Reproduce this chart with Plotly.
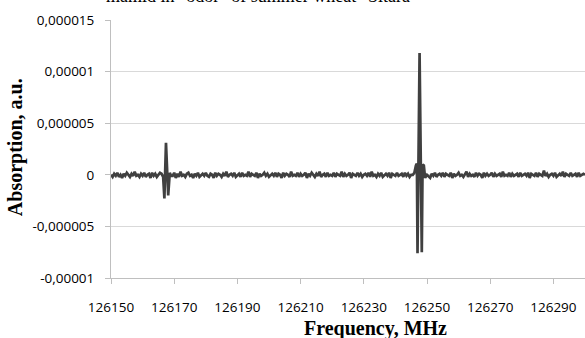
import numpy as np
import plotly.graph_objects as go

# ---- data (absorption in units of 1e-7 a.u.) ----
freq_start = 126150.0
freq_step = 0.5
baseline_abs = [
    0, -2, 1, -1, 2, -2, 0, -3, 1, -1, 2, 0, -2, 1, -1, 3, -1, 0, -2, 1,
    -1, 2, -2, 0, 1, -3, 2, -1, 1, -2, 0, 2, 0, 1, -1, 2, -2, 0, 1, -1,
    2, -3, 1, -2, 3, -1, 0, -2, 1, 2, -1, 0, -3, 1, -1, 2, -2, 0, 1, -1,
    2, -1, -2, 1, 0, -3, 2, -1, 1, 0, -2, 1, -1, 3, -2, 0, 1, -1, 2, -2,
    0, 1, -2, 2, -1, 0, -1, 3, -2, 1, 0, -1, 2, -3, 1, -1, 0, 2, -1, 1,
    -2, 0, 1, -1, 2, -2, 1, 0, -3, 2, -1, 1, 0, -2, 3, -1, 0, -1, 2, -2,
    1, -1, 0, 2, -3, 1, -1, 2, 0, -2, 1, -1, 3, -2, 0, 1, -2, 2, -1, 0,
    -1, 2, -2, 1, 0, -1, 3, -2, 1, -1, 0, 2, -3, 1, 0, -1, 2, -1, 1, -2,
    0, 1, -1, 2, -2, 3, -1, 0, -2, 1, -1, 2, -2, 0, 1, -1, 2, -3, 1, 0,
    -1, 2, -1, 0, 1, -2, 2, -1, 1, -2, 0, 1, -1, 2, 0, 1, -2, 3, -1, 0,
    1, -2, -3, 1, -1, 2, -2, 0, 1, -1, 2, -2, 1, 0, -1, 2, -3, 1, -1, 0,
    2, -1, 0, -2, 1, 3, -2, 1, -1, 0, -2, 2, -1, 1, 0, -3, 2, -1, 1, -1,
    0, 2, -2, 1, -1, 0, 1, -2, 3, -1, 0, -1, 2, -2, 1, -1, 0, 1, -2, 2,
    -1, 0, 1, -1, 2, -3, 1, 0, -1, 2, -2, 1, 0, -1, 4, -1, 1, -2, 0, 1,
    -1, 2, -2, 0, 1, -1, 3, -2, 1, 0, -1, 2, -1, 0, 1, -2, 2, -1, 0, 1,
    0,
]
peak1_freq = [126166.0, 126166.5, 126166.9, 126167.4, 126168.1, 126168.6, 126169.0]
peak1_abs = [1, -2, -23, 31, -20, 2, -1]
peak2_freq = [126245.5, 126246.0, 126246.5, 126246.8, 126247.0, 126247.65,
              126248.35, 126248.6, 126249.0, 126249.4, 126250.0]
peak2_abs = [0, 2, 9, 11, -76, 118, -75, 10, 9, -3, 0]

y_tickvals = [-1e-5, -5e-6, 0, 5e-6, 1e-5, 1.5e-5]
y_ticktext = ["-0,00001", "-0,000005", "0", "0,000005", "0,00001", "0,000015"]
x_tickvals = [126150, 126170, 126190, 126210, 126230, 126250, 126270, 126290]
x_ticktext = [str(v) for v in x_tickvals]

# ---- assemble spectrum ----
base_freq = freq_start + freq_step * np.arange(len(baseline_abs))
base_abs = np.array(baseline_abs, dtype=float)
mask = ~(((base_freq >= peak1_freq[0] - 0.1) & (base_freq <= peak1_freq[-1] + 0.1)) |
         ((base_freq >= peak2_freq[0] - 0.1) & (base_freq <= peak2_freq[-1] + 0.1)))
f_all = np.concatenate([base_freq[mask], peak1_freq, peak2_freq])
a_all = np.concatenate([base_abs[mask], peak1_abs, peak2_abs]) * 1e-7
order = np.argsort(f_all)
f_all, a_all = f_all[order], a_all[order]

fig = go.Figure()
fig.add_trace(go.Scatter(x=f_all, y=a_all, mode="lines",
                         line=dict(color="#404040", width=2.7), hoverinfo="skip"))

tick_font = dict(family="Open Sans", size=13.5, color="#000000")
fig.update_layout(
    width=585, height=338,
    margin=dict(l=111, r=0, t=20, b=60),
    paper_bgcolor="white", plot_bgcolor="white",
    showlegend=False,
    xaxis=dict(range=[126150, 126300], tickvals=x_tickvals, ticktext=x_ticktext,
               showgrid=False, zeroline=False, showline=True, linecolor="#bfbfbf",
               linewidth=1, ticks="outside", ticklen=5, tickcolor="#bfbfbf",
               tickfont=tick_font, ticklabelstandoff=12),
    yaxis=dict(range=[-1e-5, 1.5e-5], tickvals=y_tickvals, ticktext=y_ticktext,
               showgrid=True, gridcolor="#d9d9d9", gridwidth=1, zeroline=False,
               showline=True, linecolor="#bfbfbf", linewidth=1, ticks="outside",
               ticklen=5, tickcolor="#bfbfbf", tickfont=tick_font, ticklabelstandoff=8),
    annotations=[
        dict(text='mamid in "odor" of summer wheat "Sitara"', xref="paper", yref="paper",
             x=0.3175, y=1.045, xanchor="center", yanchor="bottom", showarrow=False,
             font=dict(family="Liberation Serif", size=18, color="#000000")),
        dict(text="<b>Absorption, a.u.</b>", xref="paper", yref="paper",
             x=-0.2, y=0.508, xanchor="center", yanchor="middle", textangle=-90,
             showarrow=False, font=dict(family="Liberation Serif", size=20, color="#000000")),
        dict(text="<b>Frequency, MHz</b>", xref="paper", yref="paper",
             x=0.557, y=-0.196, xanchor="center", yanchor="middle",
             showarrow=False, font=dict(family="Liberation Serif", size=20, color="#000000")),
    ],
)
fig.write_html("out.html")
